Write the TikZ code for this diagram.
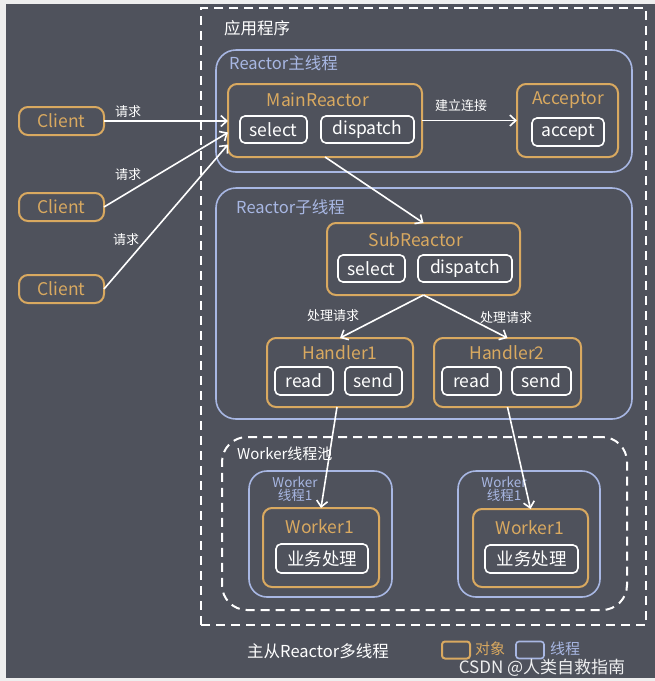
\documentclass[tikz,border=0pt]{standalone}
\usepackage{fontspec}
\setmainfont{Noto Sans CJK SC}
\usetikzlibrary{arrows.meta,calc}
\definecolor{bg}{HTML}{4F525C}
\definecolor{org}{HTML}{D9A960}
\definecolor{blu}{HTML}{A8B7E3}
\definecolor{edgegray}{HTML}{EEEEEE}
\begin{document}
\begin{tikzpicture}[x=1pt,y=1pt,
  box/.style={rectangle, inner sep=0pt, outer sep=0pt},
  obj/.style={box, draw=org, line width=2pt, rounded corners=9pt},
  thr/.style={box, draw=blu, line width=1.6pt, rounded corners=20pt},
  dashbox/.style={box, draw=white, line width=2pt, dash pattern=on 9pt off 6pt},
  op/.style={box, draw=white, line width=1.6pt, rounded corners=5pt, text=white, font=\fontsize{17.5}{17.5}\selectfont},
  client/.style={obj, text=org, font=\fontsize{17.5}{17.5}\selectfont, minimum width=85pt, minimum height=28pt},
  otitle/.style={text=org, font=\fontsize{17.5}{17.5}\selectfont, inner sep=0pt},
  ttitle/.style={text=blu, font=\fontsize{16.5}{16.5}\selectfont, inner sep=0pt, anchor=west},
  wtitle/.style={text=white, font=\fontsize{16.5}{16.5}\selectfont, inner sep=0pt, anchor=west},
  elabel/.style={text=white, font=\fontsize{13}{13}\selectfont, inner sep=0pt},
  wlabel/.style={text=blu, font=\fontsize{13.5}{12.5}\selectfont, align=center, inner sep=0pt},
  arr/.style={draw=white, line width=1.6pt, -{Straight Barb[length=6pt,width=11pt,line width=1.6pt]}}
]
\useasboundingbox (0,0) rectangle (655,-681);
\fill[edgegray] (0,0) rectangle (655,-681);
\fill[bg] (6,-4) rectangle (655,-678);

% application frame
\node[dashbox, minimum width=445pt, minimum height=617pt] (app) at (423.5,-316.5) {};
\node[wtitle] (appT) at (224,-28) {应用程序};

% main reactor thread
\node[thr, minimum width=416pt, minimum height=122pt] (mainT) at (424,-111) {};
\node[ttitle] (mainTL) at (229,-63) {Reactor主线程};

\node[obj, minimum width=194pt, minimum height=73pt] (mr) at (325,-120.5) {};
\node[otitle] (mrT) at (318,-100) {MainReactor};
\node[op, minimum width=67pt, minimum height=27pt] (mrsel) at (273.5,-129.5) {select};
\node[op, minimum width=93pt, minimum height=27pt] (mrdis) at (367.5,-129.5) {dispatch};

\node[obj, minimum width=101pt, minimum height=73pt] (acc) at (567.5,-120.5) {};
\node[otitle] (accT) at (568,-100) {Acceptor};
\node[op, minimum width=72pt, minimum height=28pt] (accp) at (568,-132) {accept};

% clients
\node[client] (c1) at (61.5,-121) {Client};
\node[client] (c2) at (61.5,-207) {Client};
\node[client] (c3) at (61.5,-289) {Client};

\coordinate (in1) at ($(mr.west)+(0,-0.5)$);
\coordinate (in2) at ($(mr.west)+(0,-12)$);
\coordinate (in3) at ($(mr.west)+(0,-24)$);
\draw[arr] (c1.east) -- (in1);
\draw[arr] (c2.east) -- (in2);
\draw[arr] (c3.east) -- (in3);
\node[elabel] (q1) at (128,-112) {请求};
\node[elabel] (q2) at (128,-175) {请求};
\node[elabel] (q3) at (126,-240) {请求};

\draw[arr] (mr.east) -- (acc.west);
\node[elabel] (conn) at (461,-106) {建立连接};

% sub reactor thread
\node[thr, minimum width=416pt, minimum height=231pt] (subT) at (424,-303.5) {};
\node[ttitle] (subTL) at (236,-207) {Reactor子线程};

\node[obj, minimum width=193pt, minimum height=72pt] (sr) at (423.5,-259) {};
\node[otitle] (srT) at (416,-240) {SubReactor};
\node[op, minimum width=67pt, minimum height=27pt] (srsel) at (371.5,-268.5) {select};
\node[op, minimum width=94pt, minimum height=27pt] (srdis) at (465,-268.5) {dispatch};

\draw[arr] (mr.south) -- (sr.north);

\node[obj, minimum width=146pt, minimum height=69pt] (h1) at (340,-372.5) {};
\node[otitle] (h1T) at (340,-353) {Handler1};
\node[op, minimum width=58pt, minimum height=28pt] (h1r) at (304,-381) {read};
\node[op, minimum width=57pt, minimum height=28pt] (h1s) at (373.5,-381) {send};

\node[obj, minimum width=147pt, minimum height=69pt] (h2) at (507.5,-372.5) {};
\node[otitle] (h2T) at (507,-353) {Handler2};
\node[op, minimum width=59pt, minimum height=28pt] (h2r) at (471.5,-381) {read};
\node[op, minimum width=59pt, minimum height=28pt] (h2s) at (541.5,-381) {send};

\draw[arr] (sr.south) -- (h1.north);
\draw[arr] (sr.south) -- (h2.north);
\node[elabel] (p1) at (333,-316) {处理请求};
\node[elabel] (p2) at (506,-318) {处理请求};

% worker pool
\node[dashbox, rounded corners=25pt, minimum width=405pt, minimum height=173pt] (pool) at (424.5,-523.5) {};
\node[wtitle, font=\fontsize{15}{15}\selectfont] (poolT) at (237,-454) {Worker线程池};

\node[thr, rounded corners=18pt, minimum width=143pt, minimum height=126pt] (wt1) at (320.5,-534) {};
\node[wlabel] (wt1L) at (295,-489) {Worker\\线程1};
\node[obj, minimum width=116pt, minimum height=79pt] (w1) at (321,-547.5) {};
\node[otitle] (w1T) at (320,-527) {Worker1};
\node[op, minimum width=92pt, minimum height=29pt] (w1b) at (322,-558.5) {业务处理};

\node[thr, rounded corners=18pt, minimum width=142pt, minimum height=126pt] (wt2) at (529,-534) {};
\node[wlabel] (wt2L) at (504,-489) {Worker\\线程1};
\node[obj, minimum width=115pt, minimum height=78pt] (w2) at (530.5,-548) {};
\node[otitle] (w2T) at (530,-528) {Worker1};
\node[op, minimum width=93pt, minimum height=28pt] (w2b) at (531.5,-559) {业务处理};

\draw[arr] ($(h1.south)+(-3,0)$) -- (w1.north);
\draw[arr] (h2.south) -- (w2.north);

% caption and legend
\node[text=white, font=\fontsize{16.5}{16.5}\selectfont, inner sep=0pt] (cap) at (318,-651) {主从Reactor多线程};
\node[box, draw=org, line width=2pt, rounded corners=3pt, minimum width=28pt, minimum height=17pt] (legO) at (456,-650) {};
\node[text=org, font=\fontsize{15}{15}\selectfont, inner sep=0pt] (legOT) at (490,-649) {对象};
\node[box, draw=blu, line width=1.6pt, rounded corners=3pt, minimum width=28pt, minimum height=17pt] (legB) at (530,-650) {};
\node[text=blu, font=\fontsize{15}{15}\selectfont, inner sep=0pt] (legBT) at (565,-649) {线程};
\node[text=white, opacity=0.9, font=\fontsize{17}{17}\selectfont, inner sep=0pt] (wm) at (542,-668) {CSDN @人类自救指南};
\end{tikzpicture}
\end{document}
